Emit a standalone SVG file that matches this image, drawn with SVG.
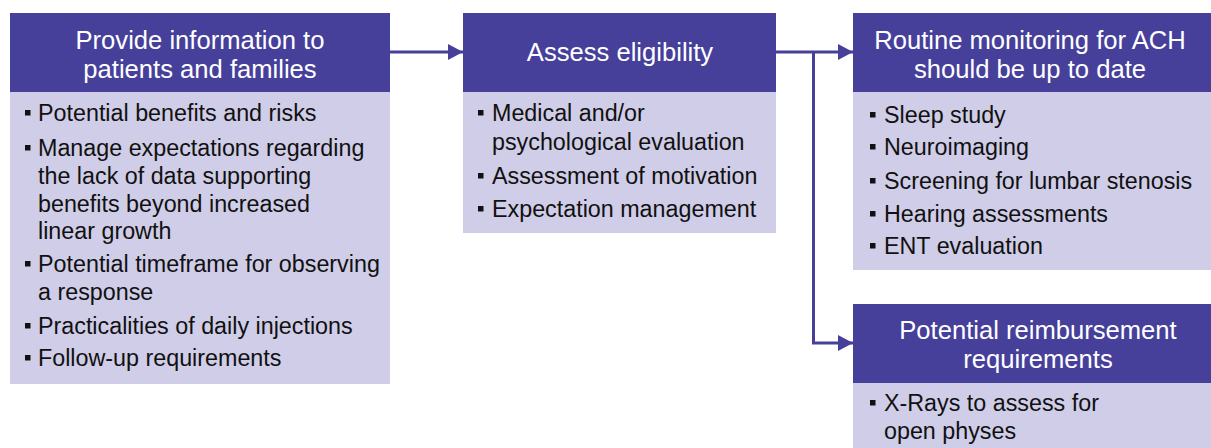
<svg xmlns="http://www.w3.org/2000/svg" width="1211" height="448" viewBox="0 0 1211 448">
<style>
.hd{fill:#46409B}
.bd{fill:#D0CDE8}
.ht{font-family:"Liberation Sans",Arial,sans-serif;font-size:25.6px;fill:#fff;text-anchor:middle}
.bt{font-family:"Liberation Sans",Arial,sans-serif;font-size:23.3px;fill:#111}
.bu{fill:#111}
.cn{stroke:#46409B;stroke-width:3;fill:none}
</style>
<defs>
<marker id="ah" markerWidth="16" markerHeight="16" refX="15" refY="8" orient="auto" markerUnits="userSpaceOnUse">
<path d="M0,0 L15,8 L0,16 Z" fill="#46409B"/>
</marker>
<rect id="b" width="5.5" height="5.5"/>
</defs>
<g id="connectors">
<path class="cn" d="M390,52 H463" marker-end="url(#ah)"/>
<path class="cn" d="M776,52 H853" marker-end="url(#ah)"/>
<path class="cn" d="M813.5,52 V343 H853" marker-end="url(#ah)"/>
</g>
<g id="node-provide">
<rect class="hd" x="10" y="13" width="380" height="79"/>
<rect class="bd" x="10" y="92" width="380" height="292"/>
<text class="ht" x="200" y="49">Provide information to</text>
<text class="ht" x="200" y="78">patients and families</text>
<g class="bu">
<use href="#b" x="25" y="110"/><use href="#b" x="25" y="145"/><use href="#b" x="25" y="261"/><use href="#b" x="25" y="323"/><use href="#b" x="25" y="355"/>
</g>
<text class="bt" x="38" y="121">Potential benefits and risks</text>
<text class="bt" x="38" y="156">Manage expectations regarding</text>
<text class="bt" x="38" y="184">the lack of data supporting</text>
<text class="bt" x="38" y="212">benefits beyond increased</text>
<text class="bt" x="38" y="239">linear growth</text>
<text class="bt" x="38" y="272">Potential timeframe for observing</text>
<text class="bt" x="38" y="300">a response</text>
<text class="bt" x="38" y="334">Practicalities of daily injections</text>
<text class="bt" x="38" y="366">Follow-up requirements</text>
</g>
<g id="node-assess">
<rect class="hd" x="463" y="13" width="313" height="79"/>
<rect class="bd" x="463" y="92" width="313" height="141"/>
<text class="ht" x="620" y="61">Assess eligibility</text>
<g class="bu">
<use href="#b" x="478" y="110"/><use href="#b" x="478" y="173"/><use href="#b" x="478" y="206"/>
</g>
<text class="bt" x="492" y="121">Medical and/or</text>
<text class="bt" x="492" y="150">psychological evaluation</text>
<text class="bt" x="492" y="184">Assessment of motivation</text>
<text class="bt" x="492" y="217">Expectation management</text>
</g>
<g id="node-routine">
<rect class="hd" x="853" y="13" width="358" height="79"/>
<rect class="bd" x="853" y="92" width="358" height="178"/>
<text class="ht" x="1030" y="49">Routine monitoring for ACH</text>
<text class="ht" x="1030" y="78">should be up to date</text>
<g class="bu">
<use href="#b" x="870" y="112"/><use href="#b" x="870" y="144"/><use href="#b" x="870" y="178"/><use href="#b" x="870" y="211"/><use href="#b" x="870" y="243"/>
</g>
<text class="bt" x="884" y="123">Sleep study</text>
<text class="bt" x="884" y="155">Neuroimaging</text>
<text class="bt" x="884" y="189">Screening for lumbar stenosis</text>
<text class="bt" x="884" y="222">Hearing assessments</text>
<text class="bt" x="884" y="254">ENT evaluation</text>
</g>
<g id="node-reimburse">
<rect class="hd" x="853" y="304" width="358" height="79"/>
<rect class="bd" x="853" y="383" width="358" height="65"/>
<text class="ht" x="1038" y="339">Potential reimbursement</text>
<text class="ht" x="1038" y="368">requirements</text>
<g class="bu"><use href="#b" x="870" y="400"/></g>
<text class="bt" x="884" y="411">X-Rays to assess for</text>
<text class="bt" x="884" y="439">open physes</text>
</g>
</svg>
